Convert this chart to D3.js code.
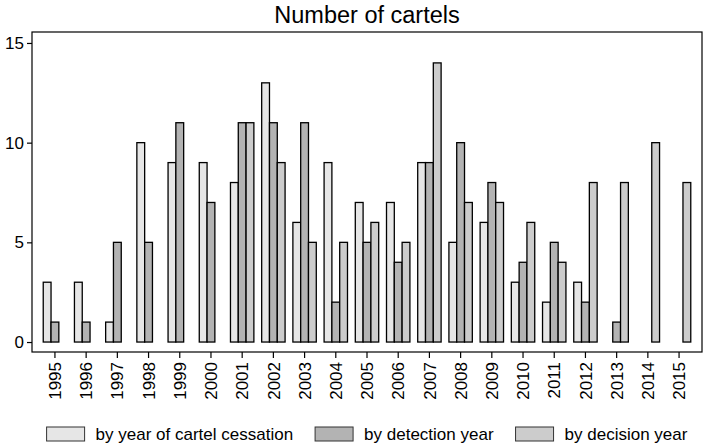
<!DOCTYPE html>
<html>
<head>
<meta charset="utf-8">
<script src="https://cdn.jsdelivr.net/npm/d3@7"></script>
<style>
  body { margin: 0; background: #fff; }
  svg { display: block; font-family: "Liberation Sans", Arial, sans-serif; }
</style>
</head>
<body>
<svg width="703" height="447"></svg>
<script>
const years = ["1995", "1996", "1997", "1998", "1999", "2000", "2001", "2002", "2003", "2004",
    "2005", "2006", "2007", "2008", "2009", "2010", "2011", "2012", "2013", "2014", "2015"];

const cessation = [3, 3, 1, 10, 9, 9, 8, 13, 6, 9, 7, 7, 9, 5, 6, 3, 2, 3, 0, 0, 0];
const detection = [1, 1, 5, 5, 11, 7, 11, 11, 11, 2, 5, 4, 9, 10, 8, 4, 5, 2, 1, 0, 0];
const decision = [0, 0, 0, 0, 0, 0, 11, 9, 5, 5, 6, 5, 14, 7, 7, 6, 4, 8, 8, 10, 8];

const seriesNames = ["by year of cartel cessation", "by detection year", "by decision year"];
const seriesColors = ["#e6e6e6", "#b3b3b3", "#cccccc"];
const yTicks = [0, 5, 10, 15];

const svg = d3.select("svg");

const x = d3.scaleBand()
    .domain(years)
    .range([32, 702])
    .paddingInner(0.25)
    .paddingOuter(0.36);

const xs = d3.scaleBand()
    .domain([0, 1, 2])
    .range([0, x.bandwidth()]);

const y = d3.scaleLinear()
    .domain([-0.5, 15.55])
    .range([352, 32]);

// title
svg.append("text")
    .attr("x", (32 + 702) / 2)
    .attr("y", 23)
    .attr("text-anchor", "middle")
    .style("font-size", "23.5px")
    .attr("fill", "#000")
    .text("Number of cartels");

// y axis
const yAxis = svg.append("g")
    .attr("transform", "translate(32,0)")
    .call(d3.axisLeft(y).tickValues(yTicks).tickSize(5).tickPadding(3));
yAxis.select(".domain").remove();
yAxis.selectAll("line").attr("stroke", "#000").attr("stroke-width", 1.2);
yAxis.selectAll("text").style("font-size", "17px").attr("fill", "#000").attr("font-family", null);

// x axis
const xAxis = svg.append("g")
    .attr("transform", "translate(0,352)")
    .call(d3.axisBottom(x).tickSize(6));
xAxis.select(".domain").remove();
xAxis.selectAll("line").attr("stroke", "#000").attr("stroke-width", 1.2);
xAxis.selectAll("text")
    .attr("transform", "rotate(-90)")
    .attr("x", -10)
    .attr("y", 0)
    .attr("dy", "0.36em")
    .style("text-anchor", "end")
    .style("font-size", "17px")
    .attr("fill", "#000")
    .attr("font-family", null);

// bars (zero values are not drawn)
const series = [cessation, detection, decision];
const rows = [];
series.forEach((vals, s) => {
    vals.forEach((v, i) => rows.push({ year: years[i], s: s, v: v }));
});

svg.append("g")
    .selectAll("rect")
    .data(rows.filter(d => d.v > 0))
    .join("rect")
    .attr("x", d => x(d.year) + xs(d.s))
    .attr("y", d => y(d.v))
    .attr("width", xs.bandwidth())
    .attr("height", d => y(0) - y(d.v))
    .attr("fill", d => seriesColors[d.s])
    .attr("stroke", "#000")
    .attr("stroke-width", 1.3);

// frame
svg.append("rect")
    .attr("x", 32)
    .attr("y", y(15.55))
    .attr("width", 702 - 32)
    .attr("height", y(-0.5) - y(15.55))
    .attr("fill", "none")
    .attr("stroke", "#000")
    .attr("stroke-width", 1.2);

// legend
const legend = svg.append("g");
const items = legend.selectAll("g")
    .data(seriesNames)
    .join("g");
items.append("rect")
    .attr("y", 427)
    .attr("width", 38)
    .attr("height", 14)
    .attr("fill", (d, i) => seriesColors[i])
    .attr("stroke", "#333")
    .attr("stroke-width", 1);
items.append("text")
    .attr("x", 49)
    .attr("y", 440)
    .style("font-size", "17px")
    .attr("fill", "#000")
    .text(d => d);

let pos = 0;
const offsets = [];
items.each(function () {
    const w = 49 + this.querySelector("text").getComputedTextLength();
    offsets.push(pos);
    pos += w + 22;
});
const total = pos - 22;
const start = (32 + 702) / 2 - total / 2;
items.attr("transform", (d, i) => `translate(${start + offsets[i]},0)`);
</script>
</body>
</html>
